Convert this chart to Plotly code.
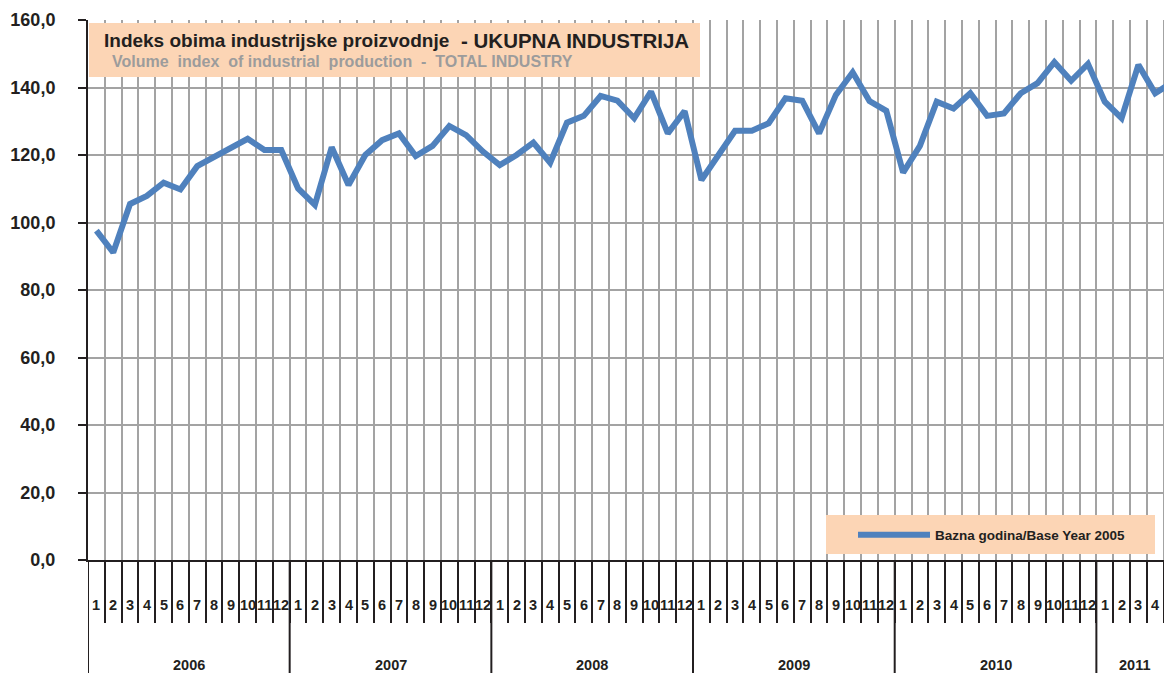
import plotly.graph_objects as go

# ---- data ----
years = ["2006", "2007", "2008", "2009", "2010", "2011"]
months = [str(m) for m in range(1, 13)]
values_2006 = [97.6, 91.1, 105.5, 107.9, 111.8, 109.8, 116.7, 119.3, 122.3, 124.8, 121.5, 121.5]
values_2007 = [110.1, 105.2, 122.3, 111.1, 120.0, 124.4, 126.4, 119.7, 122.7, 128.6, 125.9, 121.0]
values_2008 = [117.0, 120.0, 123.7, 117.7, 129.6, 131.6, 137.5, 136.1, 130.9, 138.8, 126.4, 133.0]
values_2009 = [112.6, 120.0, 127.2, 127.2, 129.4, 136.8, 136.1, 126.4, 137.8, 144.5, 136.0, 133.1]
values_2010 = [114.8, 122.7, 135.8, 133.8, 138.3, 131.6, 132.3, 138.3, 141.3, 147.5, 142.0, 147.0]
values_2011 = [135.8, 130.9, 146.7, 138.3, 141.5]
series_name = "Bazna godina/Base Year 2005"
title_main = "Indeks obima industrijske proizvodnje"
title_main2 = "- UKUPNA INDUSTRIJA"
title_sub = "Volume\u00a0\u00a0index\u00a0\u00a0of industrial\u00a0\u00a0production\u00a0\u00a0-\u00a0\u00a0TOTAL INDUSTRY"
y_ticks = [0, 20, 40, 60, 80, 100, 120, 140, 160]

all_values = values_2006 + values_2007 + values_2008 + values_2009 + values_2010 + values_2011
x_idx = list(range(len(all_values)))
month_labels = [months[i % 12] for i in x_idx]

X_MAX = 64.0  # visible right edge (chart is cut off here)
FONT = "Liberation Sans, Arial, sans-serif"
DARK = "#231f20"
GRID = "#a3a3a3"
PEACH = "#fcd5b5"
BLUE = "#4f81bd"

# page body has an 8px margin -> compensate so the plot area lands at x=88..1172, y=20..560
OFF = 8
PL, PT, PW, PH = 88, 20, 1084, 540

fig = go.Figure()
fig.add_trace(go.Scatter(
    x=x_idx, y=all_values, mode="lines", name=series_name,
    line=dict(color=BLUE, width=6), showlegend=True,
))

boundaries = [i + 0.5 for i in x_idx if i + 0.5 < X_MAX]

fig.update_layout(
    width=1172 - OFF, height=673 - OFF,
    margin=dict(l=PL - OFF, r=0, t=PT - OFF, b=673 - OFF - (PT - OFF) - PH),
    paper_bgcolor="white", plot_bgcolor="white",
    separators=",.",
    font=dict(family=FONT, color=DARK),
    xaxis=dict(
        range=[-0.5, X_MAX], tickmode="array", tickvals=boundaries,
        showticklabels=False, showgrid=True, gridcolor=GRID, gridwidth=2,
        ticks="outside", ticklen=61, tickwidth=2, tickcolor=DARK,
        showline=True, linecolor=DARK, linewidth=2, zeroline=False,
    ),
    yaxis=dict(
        range=[0, 160], tickmode="array", tickvals=y_ticks, tickformat=".1f",
        showgrid=True, gridcolor=GRID, gridwidth=2, zeroline=False,
        showline=True, linecolor=DARK, linewidth=2,
        ticks="outside", ticklen=8, tickwidth=2, tickcolor=DARK,
        ticklabelstandoff=19,
        tickfont=dict(family=FONT, size=18, color=DARK, weight="bold"),
    ),
    legend=dict(
        x=(853 - PL) / PW, y=(560 - 535) / PH, xanchor="left", yanchor="middle",
        bgcolor="rgba(0,0,0,0)", borderwidth=0,
        font=dict(family=FONT, size=13.5, color=DARK, weight="bold"),
        itemwidth=72,
    ),
)

# month labels and year labels via annotations
annotations = []
for i in x_idx:
    if i + 0.5 > X_MAX:
        continue
    annotations.append(dict(
        x=i, y=0, xref="x", yref="paper", yshift=-45, text=month_labels[i],
        showarrow=False, xanchor="center", yanchor="middle",
        font=dict(family=FONT, size=14.5, color=DARK, weight="bold"),
    ))
for k, yr in enumerate(years):
    first = 12 * k
    if first > X_MAX:
        continue
    center = (first - 0.5 + min(12 * k + 11.5, X_MAX)) / 2
    annotations.append(dict(
        x=center, y=0, xref="x", yref="paper", yshift=-105, text=yr,
        showarrow=False, xanchor="center", yanchor="middle",
        font=dict(family=FONT, size=14.5, color=DARK, weight="bold"),
    ))

# title texts (positions in reference pixels -> paper coords)
px_x = lambda p: (p - PL) / PW
px_y = lambda p: (PT + PH - p) / PH
annotations.append(dict(x=px_x(102), y=px_y(40), xref="paper", yref="paper", text=title_main,
                        showarrow=False, xanchor="left", yanchor="middle",
                        font=dict(family=FONT, size=19, color=DARK, weight="bold")))
annotations.append(dict(x=px_x(459), y=px_y(40), xref="paper", yref="paper", text=title_main2,
                        showarrow=False, xanchor="left", yanchor="middle",
                        font=dict(family=FONT, size=20.5, color=DARK, weight="bold")))
annotations.append(dict(x=px_x(110), y=px_y(61), xref="paper", yref="paper", text=title_sub,
                        showarrow=False, xanchor="left", yanchor="middle",
                        font=dict(family=FONT, size=16, color="#9c9c9c", weight="bold")))
fig.update_layout(annotations=annotations)

# shapes: title box, legend box, year dividers
shapes = [
    dict(type="rect", xref="paper", yref="paper", x0=px_x(89), x1=px_x(700), y0=px_y(77), y1=px_y(23),
         fillcolor=PEACH, line=dict(width=0), layer="above"),
    dict(type="rect", xref="paper", yref="paper", x0=px_x(826), x1=px_x(1155), y0=px_y(554), y1=px_y(515),
         fillcolor=PEACH, line=dict(width=0), layer="above"),
]
for k in range(len(years)):
    bx = 12 * k - 0.5
    if bx >= X_MAX:
        continue
    shapes.append(dict(type="line", xref="x", yref="paper", x0=bx, x1=bx, y0=0, y1=-113 / PH,
                       line=dict(color=DARK, width=2)))
fig.update_layout(shapes=shapes)

fig.write_html("out.html")
